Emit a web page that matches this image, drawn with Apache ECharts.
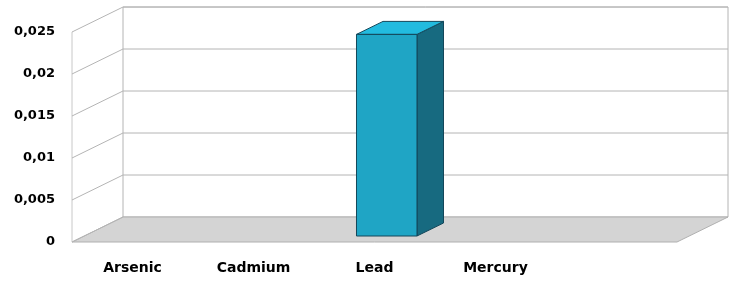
<!DOCTYPE html>
<html>
<head>
<meta charset="utf-8">
<script src="https://cdn.jsdelivr.net/npm/echarts@6/dist/echarts.min.js"></script>
<style>
  html, body { margin: 0; padding: 0; background: #fff; }
  #chart { width: 731px; height: 282px; }
</style>
</head>
<body>
<div id="chart"></div>
<script>
// data
const categories = ["Arsenic", "Cadmium", "Lead", "Mercury", ""];
const concentrations = [0, 0, 0.024, 0, 0];
const yTicks = [0, 0.005, 0.01, 0.015, 0.02, 0.025];
const yTickLabels = ["0", "0,005", "0,01", "0,015", "0,02", "0,025"];

// 3d look
const DEPTH_X = 51;
const DEPTH_Y = -25;
const BAR_FRONT = 0.24; // depth fraction where the bar starts
const BAR_BACK = 0.76;
const BAR_WIDTH = 0.5;  // share of the category band

const chart = echarts.init(document.getElementById("chart"));

function renderFrame(params, api) {
  const cs = params.coordSys;
  const x0 = cs.x;
  const x1 = cs.x + cs.width;
  const yb = api.coord([0, 0])[1];
  const yt = api.coord([0, yTicks[yTicks.length - 1]])[1];
  const children = [];
  const line = { stroke: "#b4b4b4", lineWidth: 1 };

  // back wall
  children.push({
    type: "rect",
    shape: { x: x0 + DEPTH_X, y: yt + DEPTH_Y, width: x1 - x0, height: yb - yt },
    style: { fill: "#fff", stroke: "#b4b4b4", lineWidth: 1 },
  });
  // floor
  children.push({
    type: "polygon",
    shape: {
      points: [
        [x0, yb],
        [x0 + DEPTH_X, yb + DEPTH_Y],
        [x1 + DEPTH_X, yb + DEPTH_Y],
        [x1, yb],
      ],
    },
    style: { fill: "#d4d4d4", stroke: "#b0b0b0", lineWidth: 1 },
  });
  // left wall front edge
  children.push({
    type: "line",
    shape: { x1: x0, y1: yt, x2: x0, y2: yb },
    style: { stroke: "#c8c8c8", lineWidth: 1 },
  });
  // grid lines on back and left walls
  yTicks.forEach((v) => {
    const y = api.coord([0, v])[1];
    if (v > 0) {
      children.push({
        type: "line",
        shape: { x1: x0 + DEPTH_X, y1: y + DEPTH_Y, x2: x1 + DEPTH_X, y2: y + DEPTH_Y },
        style: line,
      });
    }
    children.push({
      type: "line",
      shape: { x1: x0, y1: y, x2: x0 + DEPTH_X, y2: y + DEPTH_Y },
      style: line,
    });
  });
  return { type: "group", children: children };
}

function renderBar(params, api) {
  const idx = api.value(0);
  const val = api.value(1);
  if (!val) return null;
  const base = api.coord([idx, 0]);
  const top = api.coord([idx, val]);
  const band = api.size([1, 0])[0];
  const w = band * BAR_WIDTH;
  const fx = BAR_FRONT * DEPTH_X, fy = BAR_FRONT * DEPTH_Y;
  const bx = BAR_BACK * DEPTH_X, by = BAR_BACK * DEPTH_Y;
  const left = base[0] - w / 2 + fx;
  const right = left + w;
  const yBot = base[1] + fy;
  const yTop = top[1] + fy;
  const dx = bx - fx, dy = by - fy;
  const edge = { stroke: "#14475a", lineWidth: 1 };
  return {
    type: "group",
    children: [
      {
        type: "polygon",
        shape: { points: [[right, yTop], [right + dx, yTop + dy], [right + dx, yBot + dy], [right, yBot]] },
        style: Object.assign({ fill: "#176a80" }, edge),
      },
      {
        type: "polygon",
        shape: { points: [[left, yTop], [left + dx, yTop + dy], [right + dx, yTop + dy], [right, yTop]] },
        style: Object.assign({ fill: "#22bbdf" }, edge),
      },
      {
        type: "rect",
        shape: { x: left, y: yTop, width: w, height: yBot - yTop },
        style: Object.assign({ fill: "#1fa5c5" }, edge),
      },
    ],
  };
}

const option = {
  animation: false,
  grid: { left: 72, right: 54, top: 32, bottom: 40 },
  xAxis: {
    type: "category",
    data: categories,
    boundaryGap: true,
    axisLine: { show: false },
    axisTick: { show: false },
    axisLabel: {
      margin: 19,
      color: "#000",
      fontFamily: "DejaVu Sans",
      fontWeight: "bold",
      fontSize: 14,
      interval: 0,
    },
  },
  yAxis: {
    type: "value",
    min: 0,
    max: 0.025,
    interval: 0.005,
    axisLine: { show: false },
    axisTick: { show: false },
    splitLine: { show: false },
    axisLabel: {
      margin: 17,
      color: "#000",
      fontFamily: "DejaVu Sans",
      fontWeight: "bold",
      fontSize: 13,
      formatter: (v, i) => yTickLabels[i],
    },
  },
  series: [
    {
      type: "custom",
      silent: true,
      z: 1,
      clip: false,
      renderItem: renderFrame,
      data: [[0, 0]],
    },
    {
      type: "custom",
      name: "Concentration",
      z: 2,
      clip: false,
      renderItem: renderBar,
      data: concentrations.map((v, i) => [i, v]),
    },
  ],
};

chart.setOption(option);
</script>
</body>
</html>
